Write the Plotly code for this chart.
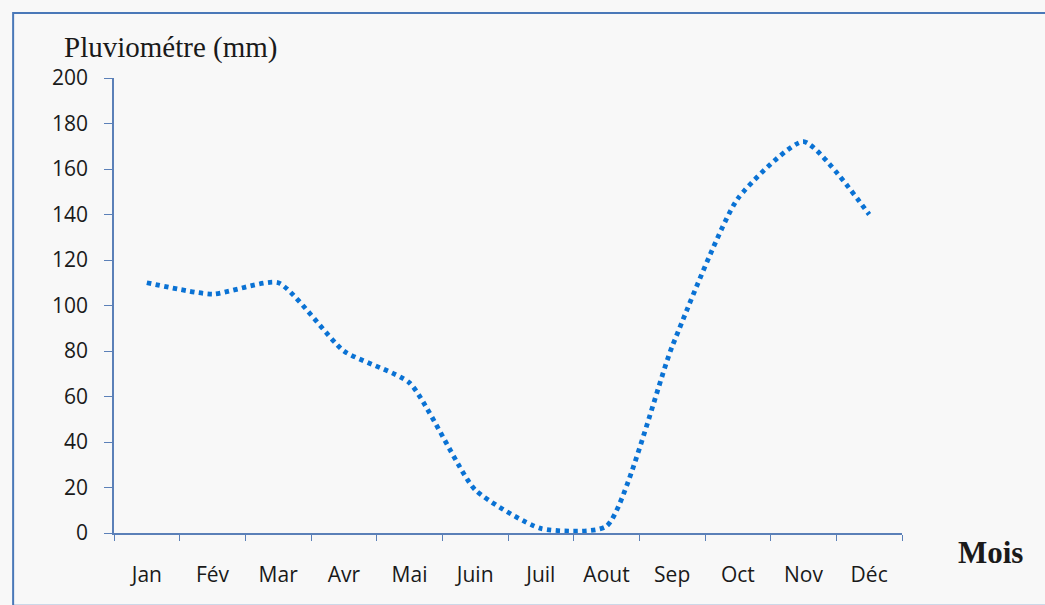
import plotly.graph_objects as go

# Monthly rainfall (mm)
months = ["Jan", "Fév", "Mar", "Avr", "Mai", "Juin", "Juil", "Aout", "Sep", "Oct", "Nov", "Déc"]
rainfall = [110, 105, 110, 80, 66, 19, 2, 3, 82, 147, 172, 140]
y_ticks = [0, 20, 40, 60, 80, 100, 120, 140, 160, 180, 200]

axis_color = "#5b80b8"
line_color = "#0a72d4"
bg = "#f8f8f8"
serif = "'Liberation Serif', 'Times New Roman', serif"

fig = go.Figure()
fig.add_trace(go.Scatter(
    x=months, y=rainfall, mode="lines",
    line=dict(color=line_color, width=4.8, dash="4.4px,4.4px", shape="spline", smoothing=0.55),
    hoverinfo="x+y", showlegend=False,
))

fig.update_layout(
    width=1045, height=605,
    margin=dict(l=114, r=143, t=78, b=72),
    paper_bgcolor=bg, plot_bgcolor=bg,
    font=dict(family="'Open Sans', sans-serif", color="#1a1a1a", size=21),
    xaxis=dict(
        type="category", showgrid=False, zeroline=False,
        showline=True, linecolor=axis_color, linewidth=1.5,
        ticks="outside", tickcolor=axis_color, ticklen=6, tickwidth=1.2,
        tickson="boundaries", ticklabelstandoff=22,
        range=[-0.5, 11.5],
    ),
    yaxis=dict(
        range=[0, 200], tickvals=y_ticks, showgrid=False, zeroline=False,
        showline=True, linecolor=axis_color, linewidth=1.5,
        ticks="outside", tickcolor=axis_color, ticklen=8, tickwidth=1.2,
        ticklabelstandoff=12,
    ),
    shapes=[
        # outer frame around the chart
        dict(type="rect", xref="paper", yref="paper", x0=-0.128, x1=1.2, y0=-0.16, y1=1.143,
             line=dict(color="#4a78b8", width=2), fillcolor="rgba(0,0,0,0)", layer="below"),
    ],
    annotations=[
        dict(text="Pluviométre (mm)", xref="paper", yref="paper", x=-0.066, y=1.066,
             xanchor="left", yanchor="middle", showarrow=False,
             font=dict(family=serif, size=29, color="#1a1a1a")),
        dict(text="<b>Mois</b>", xref="paper", yref="paper", x=1.069, y=-0.042,
             xanchor="left", yanchor="middle", showarrow=False,
             font=dict(family=serif, size=31, color="#1a1a1a")),
    ],
)

fig.write_html("out.html")
